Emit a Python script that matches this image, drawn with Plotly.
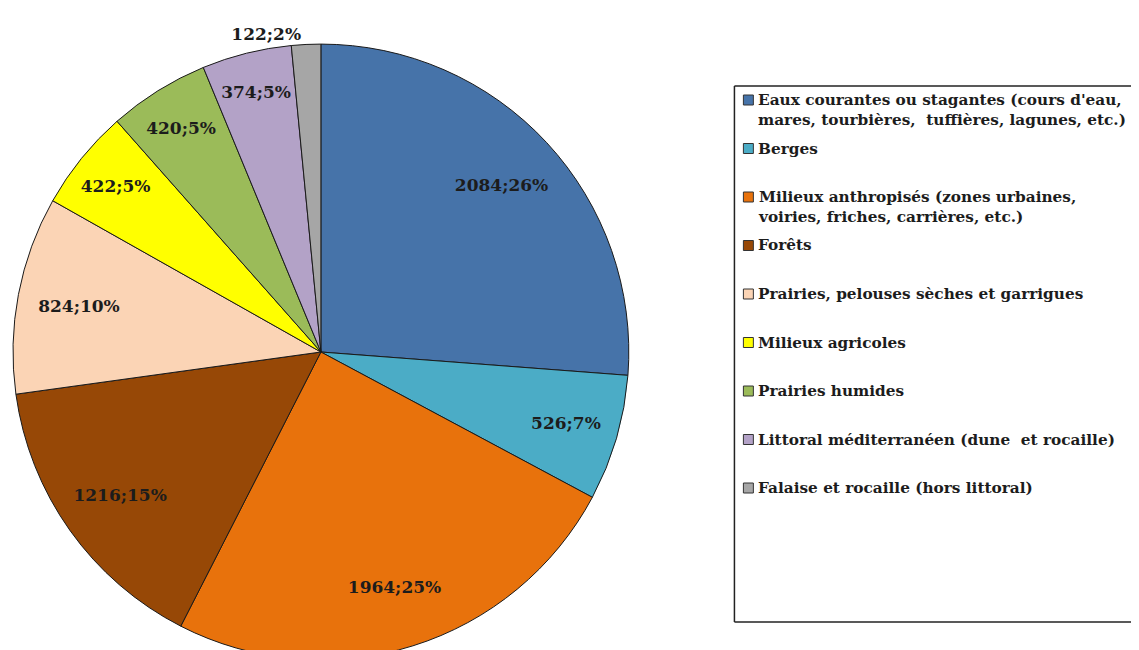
import plotly.graph_objects as go

# habitats and counts
labels = [
    "Eaux courantes ou stagantes (cours d'eau,<br>mares, tourbières,  tuffières, lagunes, etc.)",
    "Berges",
    "Milieux anthropisés (zones urbaines,<br>voiries, friches, carrières, etc.)",
    "Forêts",
    "Prairies, pelouses sèches et garrigues",
    "Milieux agricoles",
    "Prairies humides",
    "Littoral méditerranéen (dune  et rocaille)",
    "Falaise et rocaille (hors littoral)",
]
values = [2084, 526, 1964, 1216, 824, 422, 420, 374, 122]
colors = ["#4673A9", "#4BACC6", "#E8720C", "#974806", "#FBD4B5",
          "#FFFF00", "#9BBB59", "#B3A2C7", "#A6A6A6"]
text_pos = ["inside"] * 8 + ["outside"]

# page body has an 8px margin; the figure runs a bit past the window bottom
# so the pie is cut off like in the original
W, H = 1131, 672
serif = "DejaVu Serif, Liberation Serif, serif"
ink = "#1c1c1c"

def px(x):
    return x / W

def py(y):
    return 1 - y / H

pie_dom = dict(x=[px(1), px(619)], y=[py(653), py(35)])

fig = go.Figure()
# the coloured slices
fig.add_trace(go.Pie(
    labels=labels,
    values=values,
    sort=False,
    direction="clockwise",
    rotation=0,
    marker=dict(colors=colors, line=dict(color="#1a1a1a", width=1)),
    textinfo="none",
    domain=pie_dom,
    showlegend=False,
    hoverinfo="label+value+percent",
))
# transparent ring on top, only to push the data labels toward the rim
fig.add_trace(go.Pie(
    labels=labels,
    values=values,
    sort=False,
    direction="clockwise",
    rotation=0,
    hole=0.6,
    marker=dict(colors=["rgba(0,0,0,0)"] * len(values), line=dict(width=0)),
    texttemplate="%{value};%{percent:.0%}",
    textposition=text_pos,
    insidetextorientation="horizontal",
    textfont=dict(family=serif, size=17, color=ink, weight="bold"),
    domain=pie_dom,
    showlegend=False,
    hoverinfo="skip",
))

# legend box drawn by hand so the entries keep Excel's even slots;
# its right side runs off the picture, so only top, left and bottom edges
box = dict(color="#222", width=1.5)
shapes = [
    dict(type="line", xref="paper", yref="paper", x0=px(725), x1=1.05,
         y0=py(78), y1=py(78), line=box),
    dict(type="line", xref="paper", yref="paper", x0=px(725), x1=1.05,
         y0=py(614), y1=py(614), line=box),
    dict(type="line", xref="paper", yref="paper", x0=px(725), x1=px(725),
         y0=py(78), y1=py(614), line=box),
]
annotations = []
for i, (lab, col) in enumerate(zip(labels, colors)):
    yc = 92 + 48.5 * i
    shapes.append(dict(type="rect", xref="paper", yref="paper",
                       x0=px(734), x1=px(744), y0=py(yc + 5), y1=py(yc - 5),
                       fillcolor=col, line=dict(color="#333", width=1)))
    annotations.append(dict(xref="paper", yref="paper", x=px(747), y=py(yc - 11),
                            xanchor="left", yanchor="top", align="left",
                            text=lab, showarrow=False,
                            font=dict(family=serif, size=15.3, color=ink, weight="bold")))

fig.update_layout(
    width=W,
    height=H,
    margin=dict(l=0, r=0, t=0, b=0),
    paper_bgcolor="white",
    plot_bgcolor="white",
    uniformtext=dict(minsize=17, mode="show"),
    shapes=shapes,
    annotations=annotations,
)

fig.write_html("out.html")
